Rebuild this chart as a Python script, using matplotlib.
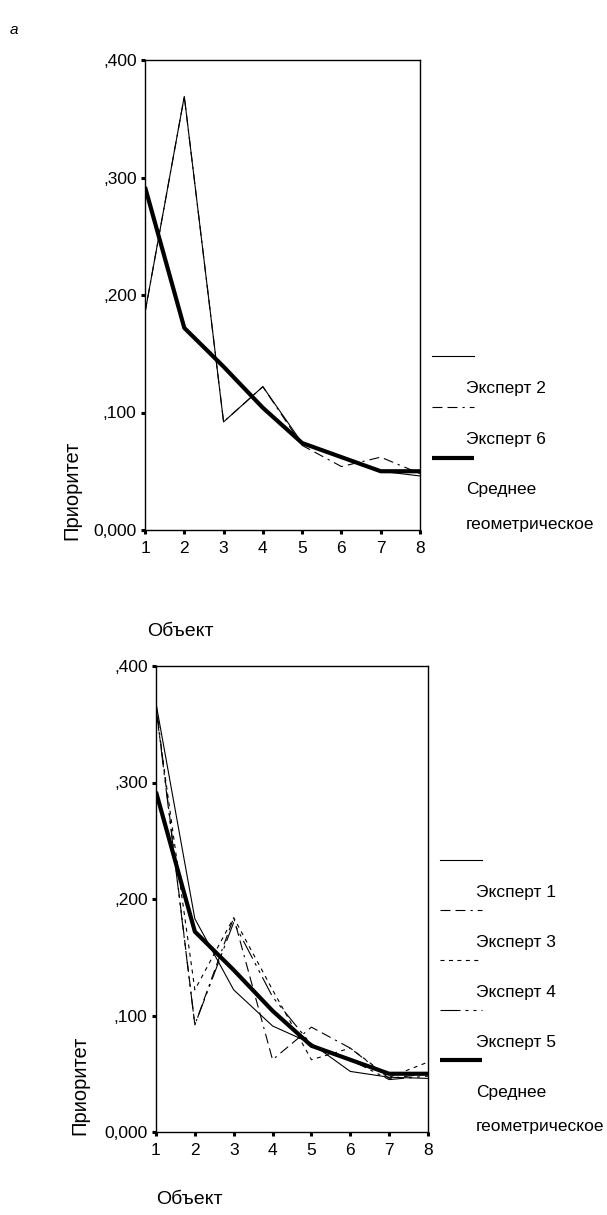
import matplotlib
matplotlib.use("Agg")
import matplotlib.pyplot as plt
from matplotlib.lines import Line2D
from matplotlib.ticker import FuncFormatter

plt.rcParams['font.family'] = ['Liberation Sans', 'DejaVu Sans']

objects = [1, 2, 3, 4, 5, 6, 7, 8]
yticks = [0.0, 0.1, 0.2, 0.3, 0.4]

# Top panel
expert2 = [0.185, 0.369, 0.092, 0.122, 0.074, 0.062, 0.050, 0.046]
expert6 = [0.185, 0.369, 0.092, 0.122, 0.072, 0.054, 0.062, 0.048]
geo_mean = [0.292, 0.172, 0.139, 0.104, 0.074, 0.062, 0.050, 0.050]

# Bottom panel
expert1 = [0.368, 0.183, 0.122, 0.091, 0.076, 0.052, 0.047, 0.046]
expert3 = [0.368, 0.092, 0.184, 0.062, 0.090, 0.072, 0.046, 0.050]
expert4 = [0.362, 0.122, 0.184, 0.122, 0.062, 0.072, 0.047, 0.060]
expert5 = [0.365, 0.092, 0.180, 0.116, 0.075, 0.062, 0.045, 0.048]

W, H = 607, 1215
fig = plt.figure(figsize=(W / 100, H / 100), dpi=100)

def fmt(v, pos):
    s = f"{v:.3f}".replace('.', ',')
    if s.startswith('0,') and v != 0:
        s = s[1:]
    return s

STY = {
    'solid': dict(color='black', lw=0.8, ls='-'),
    'e6': dict(color='black', lw=0.8, ls=(0, (9, 4.5, 9, 4.5, 2, 4.5))),
    'long': dict(color='black', lw=0.8, ls=(0, (9, 4.5, 9, 4.5, 2, 4.5))),
    'short': dict(color='black', lw=0.8, ls=(0, (3.6, 4))),
    'dashdot': dict(color='black', lw=0.8, ls=(0, (18, 4.5, 2.7, 4.5, 2.7, 4.5))),
    'mean': dict(color='black', lw=3.0, ls='-', solid_capstyle='butt'),
}

def setup(ax):
    ax.set_xlim(1, 8)
    ax.set_ylim(0, 0.4)
    ax.set_xticks(objects)
    ax.set_yticks(yticks)
    ax.yaxis.set_major_formatter(FuncFormatter(fmt))
    ax.tick_params(axis='both', direction='out', length=3, width=2.2,
                   labelsize=12.5, pad=3)
    ax.tick_params(axis='x', pad=5)
    for sp in ax.spines.values():
        sp.set_linewidth(1.0)

def px_axes(l, r, t, b):
    return [l / W, 1 - b / H, (r - l) / W, (b - t) / H]

def legend(x0, x1, xt, entries, y0, step):
    for i, (label_lines, sty) in enumerate(entries):
        y = y0 + i * step
        kw = dict(sty)
        fig.add_artist(Line2D([x0 / W, x1 / W], [1 - y / H, 1 - y / H],
                              transform=fig.transFigure, **kw))
        for j, t in enumerate(label_lines):
            fig.text(xt / W, 1 - (y + 32 + j * 34) / H, t, fontsize=12.5,
                     va='center', ha='left')

# --- Top chart
ax1 = fig.add_axes(px_axes(145, 420, 60, 530))
setup(ax1)
ax1.plot(objects, expert2, **STY['solid'])
ax1.plot(objects, expert6, **STY['e6'])
ax1.plot(objects, geo_mean, **STY['mean'])
fig.text(72 / W, 1 - 490 / H, 'Приоритет', rotation=90, fontsize=14.5,
         ha='center', va='center')
fig.text(147 / W, 1 - 632 / H, 'Объект', fontsize=14, ha='left', va='center')
fig.text(10 / W, 1 - 30 / H, 'a', fontsize=11, style='italic',
         ha='left', va='center')
legend(432, 474, 466,
       [(['Эксперт 2'], STY['solid']),
        (['Эксперт 6'], STY['e6']),
        (['Среднее', 'геометрическое'], STY['mean'])],
       356, 51)

# --- Bottom chart
ax2 = fig.add_axes(px_axes(156, 428, 666, 1132))
setup(ax2)
ax2.plot(objects, expert1, **STY['solid'])
ax2.plot(objects, expert3, **STY['long'])
ax2.plot(objects, expert4, **STY['short'])
ax2.plot(objects, expert5, **STY['dashdot'])
ax2.plot(objects, geo_mean, **STY['mean'])
fig.text(80 / W, 1 - 1085 / H, 'Приоритет', rotation=90, fontsize=14.5,
         ha='center', va='center')
fig.text(156 / W, 1 - 1200 / H, 'Объект', fontsize=14, ha='left', va='center')
legend(440, 482, 476,
       [(['Эксперт 1'], STY['solid']),
        (['Эксперт 3'], STY['long']),
        (['Эксперт 4'], STY['short']),
        (['Эксперт 5'], STY['dashdot']),
        (['Среднее', 'геометрическое'], STY['mean'])],
       860, 50)

fig.savefig('out.png', dpi=100)
